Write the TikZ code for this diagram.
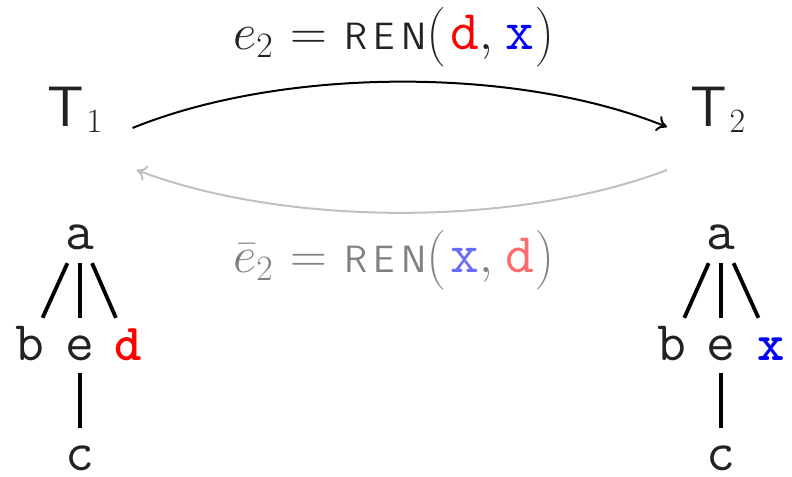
\RequirePackage{fix-cm}
\documentclass[tikz,border=0pt]{standalone}
\usepackage{amsmath}
\usetikzlibrary{arrows.meta}
\definecolor{ink}{HTML}{222222}
\definecolor{fade}{HTML}{808080}
\definecolor{arcgray}{HTML}{C0C0C0}
\definecolor{lightblue}{HTML}{6A6AFF}
\definecolor{lightred}{HTML}{FF6A6A}
\newcommand{\renword}{\mbox{\fontsize{38bp}{44bp}\selectfont\sffamily R\kern6bp E\kern6bp N}}
\newcommand{\argtt}[2]{\textcolor{#1}{\fontsize{56bp}{60bp}\selectfont\ttfamily #2}}
\begin{document}
\begin{tikzpicture}[x=1bp,y=-1bp,
  treenode/.style={inner xsep=6bp, inner ysep=0pt, text height=42bp, text depth=13bp,
    anchor=base, font=\fontsize{56bp}{60bp}\selectfont\ttfamily, text=ink},
  treeedge/.style={line width=3.8bp, draw=black},
  tlabel/.style={inner sep=0pt, text=ink},
  lbl/.style={inner sep=0pt, anchor=base west, font=\fontsize{51bp}{60bp}\selectfont},
  fwd/.style={line width=2bp, draw=black, -{To[length=10bp,width=16bp]}},
  bwd/.style={line width=2bp, draw=arcgray, -{To[length=10bp,width=16bp]}}]
\useasboundingbox (0,0) rectangle (792,477);

% T nodes
\node[tlabel, anchor=base west] (T1) at (47,127)
  {{\sffamily\fontsize{57bp}{70bp}\selectfont T}\kern3bp\raisebox{-6bp}{\fontsize{34bp}{40bp}\selectfont 1}};
\node[tlabel, anchor=base west] (T2) at (690,127)
  {{\sffamily\fontsize{57bp}{70bp}\selectfont T}\kern3bp\raisebox{-6bp}{\fontsize{34bp}{40bp}\selectfont 2}};

% labels
\node[lbl, text=ink] (L1) at (233,50)
  {$e_2$\kern17bp$=$\kern18bp\renword$\bigl($\kern6bp\argtt{red}{d}$,$\kern12bp\argtt{blue}{x}\kern2bp$\bigr)$};
\node[lbl, text=fade] (L2) at (233,273)
  {$\bar{e}_2$\kern17bp$=$\kern18bp\renword$\bigl($\kern6bp\argtt{lightblue}{x}$,$\kern12bp\argtt{lightred}{d}\kern2bp$\bigr)$};

% arcs
\coordinate (s1) at ([xshift=30bp,yshift=-1bp]T1.base east);
\coordinate (e1) at ([xshift=-23bp,yshift=0bp]T2.base west);
\coordinate (s2) at ([xshift=-23bp,yshift=-43bp]T2.base west);
\coordinate (e2) at ([xshift=34bp,yshift=-43bp]T1.base east);
\draw[fwd] (s1) .. controls +(150,-61) and +(-150,-61) .. (e1);
\draw[bwd] (s2) .. controls +(-150,57) and +(150,57) .. (e2);

% left tree
\node[treenode] (la) at (80,250) {a};
\node[treenode] (lb) at (30,360) {b};
\node[treenode] (le) at (80,360) {e};
\node[treenode, text=red, font=\fontsize{52bp}{60bp}\selectfont\ttfamily\bfseries] (ld) at (128,360) {d};
\node[treenode, text depth=0pt] (lc) at (80,470) {c};
\draw[treeedge] (la) -- (lb);
\draw[treeedge] (la) -- (le);
\draw[treeedge] (la) -- (ld);
\draw[treeedge] (le) -- (lc);

% right tree
\node[treenode] (ra) at (721,250) {a};
\node[treenode] (rb) at (672,360) {b};
\node[treenode] (re) at (721,360) {e};
\node[treenode, text=blue, font=\fontsize{52bp}{60bp}\selectfont\ttfamily\bfseries] (rx) at (771,360) {x};
\node[treenode, text depth=0pt] (rc) at (721,470) {c};
\draw[treeedge] (ra) -- (rb);
\draw[treeedge] (ra) -- (re);
\draw[treeedge] (ra) -- (rx);
\draw[treeedge] (re) -- (rc);
\end{tikzpicture}
\end{document}
